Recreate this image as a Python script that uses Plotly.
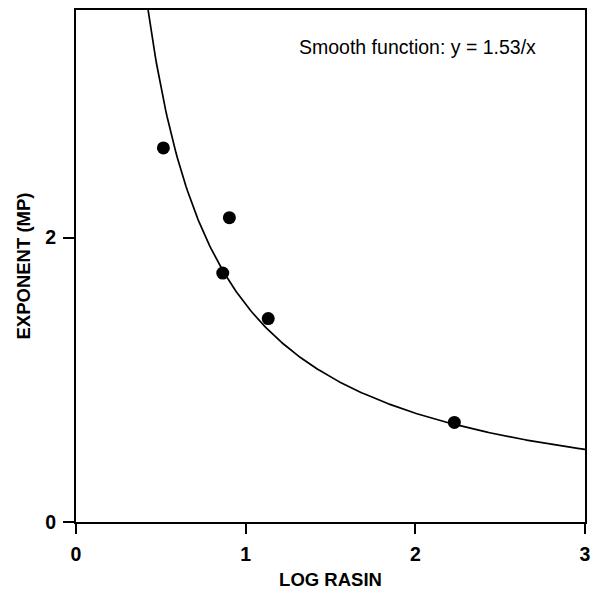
import numpy as np
import plotly.graph_objects as go

# Data
log_rasin = [0.515, 0.904, 0.865, 1.133, 2.23]
exponent_mp = [2.63, 2.14, 1.75, 1.43, 0.70]
fit_coef = 1.53  # smooth function y = 1.53/x

x_ticks = [0, 1, 2, 3]
y_ticks = [0, 2]

curve_x = np.linspace(fit_coef / 3.6, 3.0, 300)
curve_y = fit_coef / curve_x

fig = go.Figure()
fig.add_trace(go.Scatter(x=curve_x, y=curve_y, mode="lines",
                         line=dict(color="black", width=1.7), hoverinfo="skip"))
fig.add_trace(go.Scatter(x=log_rasin, y=exponent_mp, mode="markers",
                         marker=dict(color="black", size=13)))

fam = "Liberation Sans, Arial, sans-serif"
tickfont = dict(size=19.5, family=fam, color="black", weight="bold")
fig.update_layout(
    width=585, height=582,
    margin=dict(l=68, r=8, t=0, b=68),
    plot_bgcolor="white", paper_bgcolor="white",
    showlegend=False,
    font=dict(family=fam, color="black"),
    xaxis=dict(range=[0, 3], tickvals=x_ticks, ticks="outside", ticklen=10,
               tickwidth=1.5, tickcolor="black", showline=True, linecolor="black",
               linewidth=2, mirror=True, showgrid=False, zeroline=False,
               tickfont=tickfont, ticklabelstandoff=4,
               title=dict(text="<b>LOG RASIN</b>", font=dict(size=18.5), standoff=11)),
    yaxis=dict(range=[0, 3.6], tickvals=y_ticks, ticks="outside", ticklen=11,
               tickwidth=1.5, tickcolor="black", showline=True, linecolor="black",
               linewidth=2, mirror=True, showgrid=False, zeroline=False,
               tickfont=tickfont, ticklabelstandoff=3,
               title=dict(text="<b>EXPONENT (MP)</b>", font=dict(size=18.5), standoff=10)),
    annotations=[dict(text="Smooth function: y = 1.53/x", x=0.67, y=0.928,
                      xref="paper", yref="paper", xanchor="center", yanchor="middle",
                      showarrow=False,
                      font=dict(size=19.5, family=fam, color="black"))],
)

fig.write_html("out.html")
